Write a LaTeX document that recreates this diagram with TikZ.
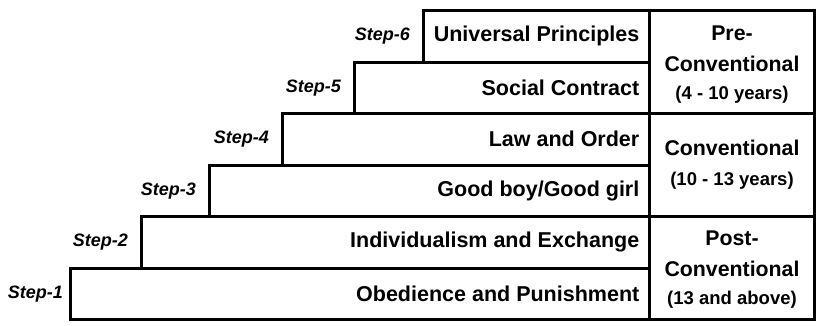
\documentclass[tikz,border=0pt]{standalone}
\usepackage{fontspec}
\setmainfont{Liberation Sans}
\begin{document}
\begin{tikzpicture}[x=1pt,y=-1pt,
  stepbox/.style={draw=black, line width=3pt, fill=white, rectangle, inner sep=0pt, anchor=north west, minimum height=51.5pt},
  agebox/.style={draw=black, line width=3pt, rectangle, inner sep=0pt, anchor=north west, minimum width=165pt, minimum height=103pt},
  steptext/.style={anchor=east, inner sep=0pt, font=\fontsize{21.5}{25}\selectfont\bfseries},
  steplabel/.style={anchor=east, inner sep=0pt, font=\fontsize{18}{22}\selectfont\bfseries\itshape},
  agetext/.style={inner sep=0pt, align=center, font=\fontsize{21.3}{27}\selectfont\bfseries}
]
\useasboundingbox (0,0) rectangle (824,325);
% step boxes
\node[stepbox, minimum width=226pt] (b6) at (422,9) {};
\node[stepbox, minimum width=295pt] (b5) at (353,60.5) {};
\node[stepbox, minimum width=367pt] (b4) at (281,112) {};
\node[stepbox, minimum width=440pt] (b3) at (208,163.5) {};
\node[stepbox, minimum width=508pt] (b2) at (140,215) {};
\node[stepbox, minimum width=579pt] (b1) at (69,266.5) {};
% age column
\node[agebox] (a1) at (648,9) {};
\node[agebox] (a2) at (648,112) {};
\node[agebox] (a3) at (648,215) {};
% step texts
\node[steptext] (t6) at ([xshift=-11.5pt]b6.east) {Universal Principles};
\node[steptext] (t5) at ([xshift=-11.5pt]b5.east) {Social Contract};
\node[steptext] (t4) at ([xshift=-11.5pt]b4.east) {Law and Order};
\node[steptext] (t3) at ([xshift=-11.5pt]b3.east) {Good boy/Good girl};
\node[steptext] (t2) at ([xshift=-11.5pt]b2.east) {Individualism and Exchange};
\node[steptext] (t1) at ([xshift=-11.5pt]b1.east) {Obedience and Punishment};
% step labels
\node[steplabel] (l6) at ([xshift=-12pt]b6.west) {Step-6};
\node[steplabel] (l5) at ([xshift=-12pt]b5.west) {Step-5};
\node[steplabel] (l4) at ([xshift=-12pt]b4.west) {Step-4};
\node[steplabel] (l3) at ([xshift=-12pt]b3.west) {Step-3};
\node[steplabel] (l2) at ([xshift=-12pt]b2.west) {Step-2};
\node[steplabel] (l1) at ([xshift=-6pt]b1.west) {Step-1};
% age texts
\node[agetext] (p1) at ([yshift=-3pt]a1.center) {Pre-\\[4pt]Conventional\\[1pt]{\fontsize{18.5}{22}\selectfont (4 - 10 years)}};
\node[agetext] (p2) at (a2.center) {Conventional\\[3pt]{\fontsize{18.5}{22}\selectfont (10 - 13 years)}};
\node[agetext] (p3) at ([yshift=-2pt]a3.center) {Post-\\[4pt]Conventional\\[1pt]{\fontsize{18.5}{22}\selectfont (13 and above)}};
\end{tikzpicture}
\end{document}
